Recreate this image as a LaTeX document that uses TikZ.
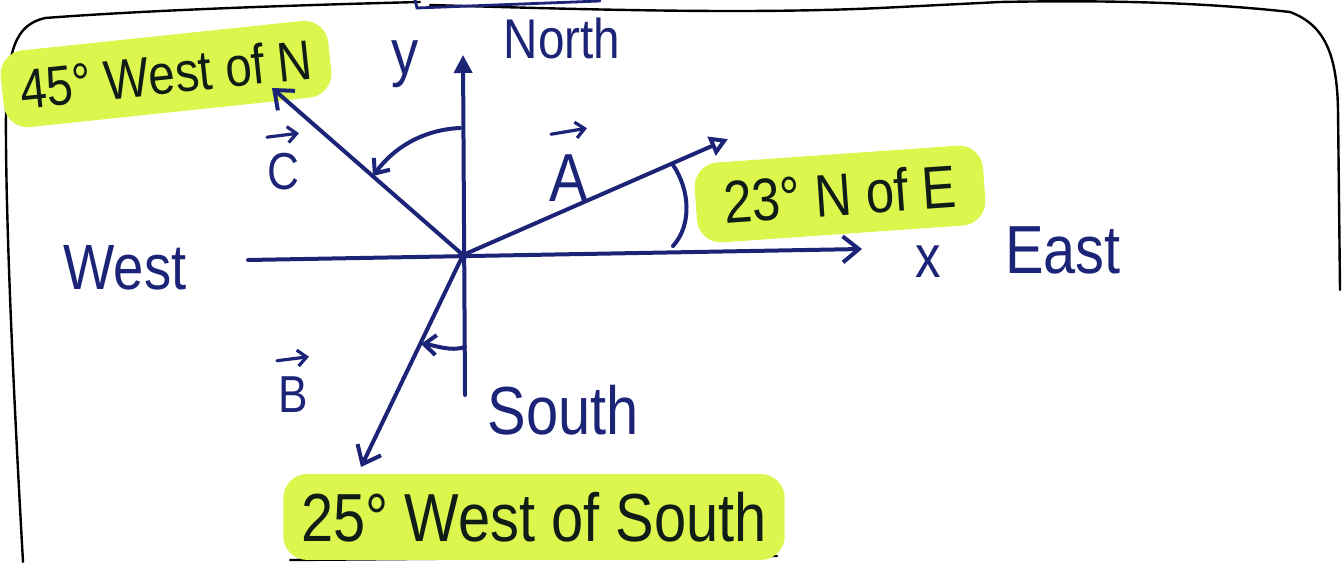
\documentclass[tikz,border=0pt]{standalone}
\usepackage{fontspec}
\setmainfont{Liberation Sans}
\newfontfamily\hand[FakeStretch=0.85]{Liberation Sans}
\usetikzlibrary{arrows.meta}
\definecolor{ink}{RGB}{28,36,120}
\definecolor{hlc}{RGB}{220,246,78}
\definecolor{darkink}{RGB}{16,28,22}
\tikzset{
  fs/.style={font=\hand\fontsize{#1}{#1}\selectfont},
  inkline/.style={draw=ink, line width=2pt, line cap=round},
  vec/.style={inkline, -{Straight Barb[length=8pt,width=13pt,line width=2pt]}},
  smallvec/.style={inkline, -{Straight Barb[length=6pt,width=10pt,line width=2pt]}},
  tinyvec/.style={draw=ink, line width=1.6pt, line cap=round, -{Straight Barb[length=4.5pt,width=8pt,line width=1.6pt]}},
  framel/.style={draw=black, line width=1.2pt, line cap=round},
  bluelbl/.style={text=ink, inner sep=0pt},
  hl/.style={fill=hlc, text=darkink, rounded corners=12pt, inner xsep=9pt, inner ysep=9pt}
}
\begin{document}
\begin{tikzpicture}[x=0.5pt,y=-0.5pt]
\useasboundingbox (0,0) rectangle (1343,562);
\fill[white] (0,0) rectangle (1343,562);

% frame
\draw[framel] (23,562) .. controls (15,420) and (5,220) .. (6,110)
  .. controls (8,50) and (15,25) .. (45,18)
  .. controls (150,10) and (300,5) .. (420,2);
\draw[framel] (430,5) .. controls (600,10) and (750,14) .. (880,8)
  -- (1000,2) .. controls (1100,0) and (1200,2) .. (1290,12)
  .. controls (1325,25) and (1337,55) .. (1338,110) -- (1340,290);
\draw[inkline, line width=1.4pt] (415,0) -- (417,8) -- (600,1);
\draw[framel] (290,560) -- (777,556);
\draw[framel] (38,123) .. controls (130,112) and (220,98) .. (303,85);

% highlighted labels
\node[hl, fs=28, rotate=6] (lblC) at (166,74) {45° West of N};
\node[hl, fs=30, rotate=4, inner xsep=14pt] (lblA) at (840,194) {23° N of E};
\node[hl, fs=34] (lblB) at (534,517) {25° West of South};

% axes
\coordinate (O) at (463,255);
\coordinate (xL) at (248,260);
\coordinate (xR) at (862,249);
\coordinate (yB) at (465,395);
\coordinate (yT) at (463,55);
\draw[vec] (xL) -- (xR);
\draw[inkline, -{Triangle[length=9pt,width=9pt]}] (yB) -- (yT);

% vectors
\coordinate (A) at (728,139);
\coordinate (C) at (272,88);
\coordinate (B) at (361,467);
\draw[inkline, -{Triangle[open,length=9pt,width=10pt,line width=2pt]}] (O) -- (A);
\draw[vec] (O) -- (C);
\draw[vec] (O) -- (B);

% angle marks
\coordinate (c1) at (460,128);
\coordinate (c2) at (373,176);
\draw[smallvec] (c1) .. controls (420,130) and (392,150) .. (c2);
\coordinate (a1) at (673,165);
\coordinate (a2) at (673,246);
\draw[inkline] (a1) .. controls (690,190) and (692,225) .. (a2);
\coordinate (b1) at (465,347);
\coordinate (b2) at (421,344);
\draw[smallvec] (b1) .. controls (450,352) and (435,345) .. (b2);

% blue labels
\node[bluelbl, fs=32] (west) at (125,268) {West};
\node[bluelbl, fs=34] (east) at (1063,250) {East};
\node[bluelbl, fs=28] (north) at (562,38) {North};
\node[bluelbl, fs=34] (south) at (563,410) {South};
\node[bluelbl, fs=30] (xl) at (928,262) {x};
\node[bluelbl, fs=32] (yl) at (405,64) {y};
\node[bluelbl, fs=34] (Al) at (569,178) {A};
\node[bluelbl, fs=26] (Cl) at (283,172) {C};
\node[bluelbl, fs=26] (Bl) at (293,395) {B};
\draw[tinyvec] ([xshift=-9pt,yshift=10pt]Al.north) -- ([xshift=9pt,yshift=13pt]Al.north);
\draw[tinyvec] ([xshift=-8pt,yshift=8pt]Cl.north) -- ([xshift=8pt,yshift=10pt]Cl.north);
\draw[tinyvec] ([xshift=-8pt,yshift=8pt]Bl.north) -- ([xshift=8pt,yshift=10pt]Bl.north);
\end{tikzpicture}
\end{document}
